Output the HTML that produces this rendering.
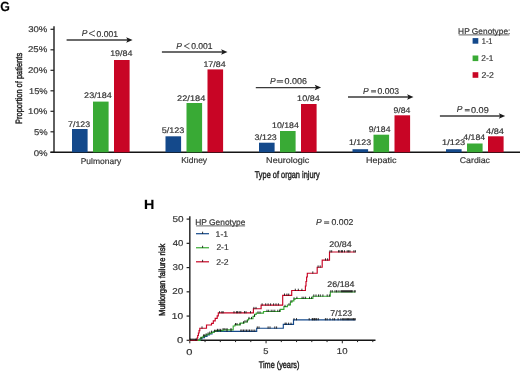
<!DOCTYPE html>
<html><head><meta charset="utf-8"><style>
html,body{margin:0;padding:0;background:#fff;width:520px;height:372px;overflow:hidden}
svg{display:block;font-family:"Liberation Sans", sans-serif;filter:blur(0.35px)}
text{stroke:#333;stroke-width:0.18px} text.t{stroke:#222;stroke-width:0.45px}
</style></head><body>
<svg width="520" height="372" viewBox="0 0 520 372">
<text transform="translate(0.374,11.064) skewX(0.1)" font-size="13.40" textLength="9.62" lengthAdjust="spacingAndGlyphs" font-weight="bold" fill="#000">G</text>
<text transform="translate(28.147,31.841) skewX(0.1)" font-size="8.30" textLength="19.13" lengthAdjust="spacingAndGlyphs" fill="#333">30%</text>
<text transform="translate(28.005,52.395) skewX(0.1)" font-size="8.30" textLength="19.31" lengthAdjust="spacingAndGlyphs" fill="#333">25%</text>
<text transform="translate(28.005,73.101) skewX(0.1)" font-size="8.30" textLength="19.31" lengthAdjust="spacingAndGlyphs" fill="#333">20%</text>
<text transform="translate(28.990,94.031) skewX(0.1)" font-size="8.30" textLength="18.64" lengthAdjust="spacingAndGlyphs" fill="#333">15%</text>
<text transform="translate(28.044,114.158) skewX(0.1)" font-size="8.30" textLength="19.31" lengthAdjust="spacingAndGlyphs" fill="#333">10%</text>
<text transform="translate(33.980,135.122) skewX(0.1)" font-size="8.30" textLength="13.69" lengthAdjust="spacingAndGlyphs" fill="#333">5%</text>
<text transform="translate(33.667,155.512) skewX(0.1)" font-size="8.30" textLength="13.93" lengthAdjust="spacingAndGlyphs" fill="#333">0%</text>
<text transform="translate(80.711,163.543) skewX(0.1)" font-size="8.30" textLength="40.55" lengthAdjust="spacingAndGlyphs" fill="#333">Pulmonary</text>
<text transform="translate(181.172,162.986) skewX(0.1)" font-size="8.30" textLength="25.94" lengthAdjust="spacingAndGlyphs" fill="#333">Kidney</text>
<text transform="translate(266.093,162.901) skewX(0.1)" font-size="8.30" textLength="43.25" lengthAdjust="spacingAndGlyphs" fill="#333">Neurologic</text>
<text transform="translate(365.895,162.758) skewX(0.1)" font-size="8.30" textLength="30.58" lengthAdjust="spacingAndGlyphs" fill="#333">Hepatic</text>
<text transform="translate(459.743,163.415) skewX(0.1)" font-size="8.30" textLength="30.23" lengthAdjust="spacingAndGlyphs" fill="#333">Cardiac</text>
<text class="t" transform="translate(254.751,177.828) skewX(0.1)" font-size="9.80" textLength="64.97" lengthAdjust="spacingAndGlyphs" fill="#333">Type of organ injury</text>
<text class="t" transform="translate(21.805,123.986) rotate(-90) skewX(0.1)" font-size="9.20" textLength="71.14" lengthAdjust="spacingAndGlyphs" fill="#333">Proportion of patients</text>
<text transform="translate(68.110,126.543) skewX(0.1)" font-size="8.10" textLength="22.07" lengthAdjust="spacingAndGlyphs" fill="#333">7/123</text>
<text transform="translate(84.123,97.570) skewX(0.1)" font-size="8.10" textLength="27.63" lengthAdjust="spacingAndGlyphs" fill="#333">23/184</text>
<text transform="translate(110.158,56.262) skewX(0.1)" font-size="8.10" textLength="22.30" lengthAdjust="spacingAndGlyphs" fill="#333">19/84</text>
<text transform="translate(161.632,132.970) skewX(0.1)" font-size="8.10" textLength="22.75" lengthAdjust="spacingAndGlyphs" fill="#333">5/123</text>
<text transform="translate(177.117,101.154) skewX(0.1)" font-size="8.10" textLength="28.17" lengthAdjust="spacingAndGlyphs" fill="#333">22/184</text>
<text transform="translate(203.399,66.962) skewX(0.1)" font-size="8.10" textLength="22.17" lengthAdjust="spacingAndGlyphs" fill="#333">17/84</text>
<text transform="translate(254.509,139.577) skewX(0.1)" font-size="8.10" textLength="22.31" lengthAdjust="spacingAndGlyphs" fill="#333">3/123</text>
<text transform="translate(272.000,128.034) skewX(0.1)" font-size="8.10" textLength="26.89" lengthAdjust="spacingAndGlyphs" fill="#333">10/184</text>
<text transform="translate(297.109,100.929) skewX(0.1)" font-size="8.10" textLength="22.59" lengthAdjust="spacingAndGlyphs" fill="#333">10/84</text>
<text transform="translate(348.883,145.491) skewX(0.1)" font-size="8.10" textLength="22.21" lengthAdjust="spacingAndGlyphs" fill="#333">1/123</text>
<text transform="translate(368.764,131.613) skewX(0.1)" font-size="8.10" textLength="21.72" lengthAdjust="spacingAndGlyphs" fill="#333">9/184</text>
<text transform="translate(393.439,113.020) skewX(0.1)" font-size="8.10" textLength="16.92" lengthAdjust="spacingAndGlyphs" fill="#333">9/84</text>
<text transform="translate(442.114,145.146) skewX(0.1)" font-size="8.10" textLength="23.14" lengthAdjust="spacingAndGlyphs" fill="#333">1/123</text>
<text transform="translate(463.335,139.919) skewX(0.1)" font-size="8.10" textLength="21.76" lengthAdjust="spacingAndGlyphs" fill="#333">4/184</text>
<text transform="translate(486.042,133.555) skewX(0.1)" font-size="8.10" textLength="17.96" lengthAdjust="spacingAndGlyphs" fill="#333">4/84</text>
<text transform="translate(458.121,33.740) skewX(0.1)" font-size="8.20" textLength="52.24" lengthAdjust="spacingAndGlyphs" fill="#333">HP Genotype:</text>
<text transform="translate(481.773,44.482) skewX(0.1)" font-size="8.40" textLength="10.72" lengthAdjust="spacingAndGlyphs" fill="#333">1-1</text>
<text transform="translate(481.356,61.360) skewX(0.1)" font-size="8.40" textLength="12.02" lengthAdjust="spacingAndGlyphs" fill="#333">2-1</text>
<text transform="translate(481.406,77.648) skewX(0.1)" font-size="8.40" textLength="12.55" lengthAdjust="spacingAndGlyphs" fill="#333">2-2</text>
<text transform="translate(143.908,208.946) skewX(0.1)" font-size="13.20" textLength="10.36" lengthAdjust="spacingAndGlyphs" font-weight="bold" fill="#000">H</text>
<text transform="translate(172.382,221.801) skewX(0.1)" font-size="8.50" textLength="11.14" lengthAdjust="spacingAndGlyphs" fill="#333">50</text>
<text transform="translate(172.667,245.865) skewX(0.1)" font-size="8.50" textLength="10.59" lengthAdjust="spacingAndGlyphs" fill="#333">40</text>
<text transform="translate(172.413,270.226) skewX(0.1)" font-size="8.50" textLength="11.02" lengthAdjust="spacingAndGlyphs" fill="#333">30</text>
<text transform="translate(172.360,294.376) skewX(0.1)" font-size="8.50" textLength="11.01" lengthAdjust="spacingAndGlyphs" fill="#333">20</text>
<text transform="translate(171.744,318.568) skewX(0.1)" font-size="8.50" textLength="11.29" lengthAdjust="spacingAndGlyphs" fill="#333">10</text>
<text transform="translate(177.088,343.321) skewX(0.1)" font-size="8.50" textLength="6.24" lengthAdjust="spacingAndGlyphs" fill="#333">0</text>
<text transform="translate(186.329,355.123) skewX(0.1)" font-size="8.50" textLength="6.18" lengthAdjust="spacingAndGlyphs" fill="#333">0</text>
<text transform="translate(263.218,354.414) skewX(0.1)" font-size="8.50" textLength="5.23" lengthAdjust="spacingAndGlyphs" fill="#333">5</text>
<text transform="translate(336.806,353.900) skewX(0.1)" font-size="8.50" textLength="10.69" lengthAdjust="spacingAndGlyphs" fill="#333">10</text>
<text class="t" transform="translate(258.727,368.232) skewX(0.1)" font-size="9.60" textLength="40.73" lengthAdjust="spacingAndGlyphs" fill="#333">Time (years)</text>
<text class="t" transform="translate(165.344,315.934) rotate(-90) skewX(0.1)" font-size="8.70" textLength="72.24" lengthAdjust="spacingAndGlyphs" fill="#333">Multiorgan failure risk</text>
<text transform="translate(195.260,224.783) skewX(0.1)" font-size="8.20" textLength="50.19" lengthAdjust="spacingAndGlyphs" fill="#333">HP Genotype</text>
<text transform="translate(215.584,236.705) skewX(0.1)" font-size="8.40" textLength="12.55" lengthAdjust="spacingAndGlyphs" fill="#333">1-1</text>
<text transform="translate(216.409,250.480) skewX(0.1)" font-size="8.40" textLength="12.25" lengthAdjust="spacingAndGlyphs" fill="#333">2-1</text>
<text transform="translate(216.173,265.080) skewX(0.1)" font-size="8.40" textLength="12.49" lengthAdjust="spacingAndGlyphs" fill="#333">2-2</text>
<text transform="translate(329.355,247.267) skewX(0.1)" font-size="8.20" textLength="22.41" lengthAdjust="spacingAndGlyphs" fill="#333">20/84</text>
<text transform="translate(327.306,286.901) skewX(0.1)" font-size="8.20" textLength="27.22" lengthAdjust="spacingAndGlyphs" fill="#333">26/184</text>
<text transform="translate(330.318,315.609) skewX(0.1)" font-size="8.20" textLength="21.88" lengthAdjust="spacingAndGlyphs" fill="#333">7/123</text>
<text transform="translate(81.693,36.283) skewX(0.1)" font-size="8.50" fill="#333"><tspan font-style="italic">P</tspan></text>
<text transform="translate(96.568,36.531) skewX(0.1)" font-size="8.50" textLength="21.41" lengthAdjust="spacingAndGlyphs" fill="#333">0.001</text>
<text transform="translate(176.197,49.414) skewX(0.1)" font-size="8.50" fill="#333"><tspan font-style="italic">P</tspan></text>
<text transform="translate(191.187,49.144) skewX(0.1)" font-size="8.50" textLength="21.45" lengthAdjust="spacingAndGlyphs" fill="#333">0.001</text>
<text transform="translate(269.922,84.114) skewX(0.1)" font-size="8.50" fill="#333"><tspan font-style="italic">P</tspan></text>
<text transform="translate(284.478,83.946) skewX(0.1)" font-size="8.50" textLength="22.40" lengthAdjust="spacingAndGlyphs" fill="#333">0.006</text>
<text transform="translate(362.922,93.714) skewX(0.1)" font-size="8.50" fill="#333"><tspan font-style="italic">P</tspan></text>
<text transform="translate(377.569,94.031) skewX(0.1)" font-size="8.50" textLength="21.57" lengthAdjust="spacingAndGlyphs" fill="#333">0.003</text>
<text transform="translate(456.706,112.088) skewX(0.1)" font-size="8.50" fill="#333"><tspan font-style="italic">P</tspan></text>
<text transform="translate(470.973,113.131) skewX(0.1)" font-size="8.50" textLength="17.75" lengthAdjust="spacingAndGlyphs" fill="#333">0.09</text>
<text transform="translate(315.922,225.114) skewX(0.1)" font-size="8.50" fill="#333"><tspan font-style="italic">P</tspan></text>
<text transform="translate(331.514,224.747) skewX(0.1)" font-size="8.50" textLength="21.82" lengthAdjust="spacingAndGlyphs" fill="#333">0.002</text>
<path d="M95.0,30.700000000000003 L89.0,33.45 L95.0,36.199999999999996" fill="none" stroke="#333" stroke-width="0.85"/>
<path d="M189.5,43.300000000000004 L184.3,46.05 L189.5,48.8" fill="none" stroke="#333" stroke-width="0.85"/>
<path d="M276.8,80.64999999999999 H283.1 M276.8,82.15 H283.1" fill="none" stroke="#4a4a4a" stroke-width="0.95"/>
<path d="M371.09999999999997,90.75 H376.0 M371.09999999999997,91.95 H376.0" fill="none" stroke="#4a4a4a" stroke-width="0.95"/>
<path d="M464.8,109.55 H469.7 M464.8,110.85000000000001 H469.7" fill="none" stroke="#4a4a4a" stroke-width="0.95"/>
<path d="M324.09999999999997,221.85000000000002 H329.2 M324.09999999999997,223.25 H329.2" fill="none" stroke="#4a4a4a" stroke-width="0.95"/>
<line x1="54" y1="26.3" x2="54" y2="152.3" stroke="#383838" stroke-width="1.6"/>
<line x1="50.5" y1="152.3" x2="54" y2="152.3" stroke="#222" stroke-width="1.2"/>
<line x1="50.5" y1="131.8" x2="54" y2="131.8" stroke="#222" stroke-width="1.2"/>
<line x1="50.5" y1="111.30000000000001" x2="54" y2="111.30000000000001" stroke="#222" stroke-width="1.2"/>
<line x1="50.5" y1="90.80000000000001" x2="54" y2="90.80000000000001" stroke="#222" stroke-width="1.2"/>
<line x1="50.5" y1="70.30000000000001" x2="54" y2="70.30000000000001" stroke="#222" stroke-width="1.2"/>
<line x1="50.5" y1="49.800000000000026" x2="54" y2="49.800000000000026" stroke="#222" stroke-width="1.2"/>
<line x1="50.5" y1="29.300000000000026" x2="54" y2="29.300000000000026" stroke="#222" stroke-width="1.2"/>
<line x1="50.4" y1="152.3" x2="520" y2="152.3" stroke="#151515" stroke-width="1.4"/>
<rect x="72.0" y="129.0" width="15.6" height="23.30000000000001" fill="#14498b"/>
<rect x="93.0" y="101.6" width="15.6" height="50.70000000000002" fill="#39aa35"/>
<rect x="114.0" y="60.0" width="15.6" height="92.30000000000001" fill="#c80525"/>
<rect x="165.5" y="136.3" width="15.6" height="16.0" fill="#14498b"/>
<rect x="186.5" y="103.0" width="15.6" height="49.30000000000001" fill="#39aa35"/>
<rect x="207.5" y="69.4" width="15.6" height="82.9" fill="#c80525"/>
<rect x="259.0" y="142.7" width="15.6" height="9.600000000000023" fill="#14498b"/>
<rect x="280.0" y="131.0" width="15.6" height="21.30000000000001" fill="#39aa35"/>
<rect x="301.0" y="104.0" width="15.6" height="48.30000000000001" fill="#c80525"/>
<rect x="352.5" y="149.2" width="15.6" height="3.1000000000000227" fill="#14498b"/>
<rect x="373.5" y="134.7" width="15.6" height="17.600000000000023" fill="#39aa35"/>
<rect x="394.5" y="115.3" width="15.6" height="37.000000000000014" fill="#c80525"/>
<rect x="446.0" y="149.2" width="15.6" height="3.1000000000000227" fill="#14498b"/>
<rect x="467.0" y="143.5" width="15.6" height="8.800000000000011" fill="#39aa35"/>
<rect x="488.0" y="136.3" width="15.6" height="16.0" fill="#c80525"/>
<line x1="66.6" y1="40.0" x2="128.6" y2="40.0" stroke="#3a3a3a" stroke-width="1.45"/>
<path d="M132.6,40.0 L126.19999999999999,37.25 L127.6,40.0 L126.19999999999999,42.75 Z" fill="#1a1a1a"/>
<line x1="161.9" y1="52.0" x2="223.5" y2="52.0" stroke="#3a3a3a" stroke-width="1.45"/>
<path d="M227.5,52.0 L221.1,49.25 L222.5,52.0 L221.1,54.75 Z" fill="#1a1a1a"/>
<line x1="255.8" y1="87.6" x2="317.1" y2="87.6" stroke="#3a3a3a" stroke-width="1.45"/>
<path d="M321.1,87.6 L314.70000000000005,84.85 L316.1,87.6 L314.70000000000005,90.35 Z" fill="#1a1a1a"/>
<line x1="348.0" y1="97.0" x2="409.5" y2="97.0" stroke="#3a3a3a" stroke-width="1.45"/>
<path d="M413.5,97.0 L407.1,94.25 L408.5,97.0 L407.1,99.75 Z" fill="#1a1a1a"/>
<line x1="439.9" y1="115.9" x2="501.2" y2="115.9" stroke="#3a3a3a" stroke-width="1.45"/>
<path d="M505.2,115.9 L498.8,113.15 L500.2,115.9 L498.8,118.65 Z" fill="#1a1a1a"/>
<line x1="458.7" y1="34.9" x2="509.4" y2="34.9" stroke="#333" stroke-width="0.75"/>
<rect x="472.6" y="38.1" width="5.7" height="5.6" fill="#14498b"/>
<rect x="472.6" y="55.5" width="5.7" height="5.6" fill="#39aa35"/>
<rect x="472.6" y="72.2" width="5.7" height="5.6" fill="#c80525"/>
<line x1="189.8" y1="216.2" x2="189.8" y2="340.3" stroke="#383838" stroke-width="1.6"/>
<line x1="186.6" y1="340.3" x2="189.8" y2="340.3" stroke="#222" stroke-width="1.2"/>
<line x1="186.6" y1="316.06" x2="189.8" y2="316.06" stroke="#222" stroke-width="1.2"/>
<line x1="186.6" y1="291.82" x2="189.8" y2="291.82" stroke="#222" stroke-width="1.2"/>
<line x1="186.6" y1="267.58000000000004" x2="189.8" y2="267.58000000000004" stroke="#222" stroke-width="1.2"/>
<line x1="186.6" y1="243.34000000000003" x2="189.8" y2="243.34000000000003" stroke="#222" stroke-width="1.2"/>
<line x1="186.6" y1="219.10000000000002" x2="189.8" y2="219.10000000000002" stroke="#222" stroke-width="1.2"/>
<line x1="189.0" y1="340.3" x2="375.5" y2="340.3" stroke="#151515" stroke-width="1.4"/>
<line x1="189.8" y1="340.3" x2="189.8" y2="343.3" stroke="#222" stroke-width="1.0"/>
<line x1="205.05" y1="340.3" x2="205.05" y2="342.1" stroke="#222" stroke-width="1.0"/>
<line x1="220.3" y1="340.3" x2="220.3" y2="342.1" stroke="#222" stroke-width="1.0"/>
<line x1="235.55" y1="340.3" x2="235.55" y2="342.1" stroke="#222" stroke-width="1.0"/>
<line x1="250.8" y1="340.3" x2="250.8" y2="342.1" stroke="#222" stroke-width="1.0"/>
<line x1="266.05" y1="340.3" x2="266.05" y2="343.3" stroke="#222" stroke-width="1.0"/>
<line x1="281.3" y1="340.3" x2="281.3" y2="342.1" stroke="#222" stroke-width="1.0"/>
<line x1="296.55" y1="340.3" x2="296.55" y2="342.1" stroke="#222" stroke-width="1.0"/>
<line x1="311.8" y1="340.3" x2="311.8" y2="342.1" stroke="#222" stroke-width="1.0"/>
<line x1="327.05" y1="340.3" x2="327.05" y2="342.1" stroke="#222" stroke-width="1.0"/>
<line x1="342.3" y1="340.3" x2="342.3" y2="343.3" stroke="#222" stroke-width="1.0"/>
<line x1="357.55" y1="340.3" x2="357.55" y2="342.1" stroke="#222" stroke-width="1.0"/>
<line x1="372.8" y1="340.3" x2="372.8" y2="342.1" stroke="#222" stroke-width="1.0"/>
<line x1="196.1" y1="225.9" x2="245.1" y2="225.9" stroke="#333" stroke-width="0.75"/>
<line x1="196.0" y1="233.7" x2="209.0" y2="233.7" stroke="#14498b" stroke-width="1.2"/>
<line x1="202.6" y1="233.7" x2="202.6" y2="231.7" stroke="#000" stroke-width="0.8"/>
<line x1="196.0" y1="247.75" x2="209.0" y2="247.75" stroke="#39aa35" stroke-width="1.2"/>
<line x1="202.6" y1="247.75" x2="202.6" y2="245.75" stroke="#000" stroke-width="0.8"/>
<line x1="196.0" y1="261.8" x2="209.0" y2="261.8" stroke="#c80525" stroke-width="1.2"/>
<line x1="202.6" y1="261.8" x2="202.6" y2="259.8" stroke="#000" stroke-width="0.8"/>
<path d="M189.5,340.3 H200 V339 H202 V337.6 H204.5 V336.3 H207 V335 H209.5 V333.8 H212 V332.4 H214 V331.3 H256.7 V328.2 H283.3 V324.4 H293.5 V319.9 H355.4" fill="none" stroke="#14498b" stroke-width="1.15"/>
<path d="M189.5,340.3 H200 V338.8 H201 V337.3 H203 V336.2 H205 V335.2 H207 V334.2 H209.5 V333.3 H211.5 V332.4 H214 V331.5 H216 V330.6 H223 V329.8 H233.2 V326 H234.9 V324.8 H240.1 V323.1 H244 V322 H247.4 V319.9 H248.6 V318.7 H253 V316.3 H254.6 V314.3 H256.2 V313.1 H263.5 V311.5 H280.2 V309.3 H283.9 V306.6 H287.4 V305 H290.4 V302 H292.2 V300.8 H293.9 V299.1 H295.2 V298.5 H312.9 V296.2 H330.3 V292 H355.4" fill="none" stroke="#39aa35" stroke-width="1.15"/>
<path d="M189.5,340.3 H197 V338 H197.7 V335.5 H198.4 V333 H199.1 V330.6 H199.8 V328.2 H206.5 V325 H211.5 V323.4 H213.3 V320.8 H215.2 V318.3 H217.2 V315.8 H218.3 V312.9 H253.4 V308.7 H261.1 V305.1 H282.7 V295.3 H291.7 V290.5 H305.4 V286 H306 V281.5 H306.6 V277 H307.3 V273.2 H317.2 V267.2 H322.2 V260.1 H329.5 V252 H355.6" fill="none" stroke="#c80525" stroke-width="1.15"/>
<path d="M217.8,331.7 V329.5 M220.6,331.7 V329.5 M227,331.7 V329.5 M231,331.7 V329.5 M240.8,331.7 V329.5 M242,331.7 V329.5 M243.5,331.7 V329.5 M245,331.7 V329.5 M246.5,331.7 V329.5 M248,331.7 V329.5 M249.5,331.7 V329.5 M251.2,331.7 V329.5 M253,331.7 V329.5 M254.8,331.7 V329.5 M257.3,328.59999999999997 V326.4 M259,328.59999999999997 V326.4 M268.1,328.59999999999997 V326.4 M270,328.59999999999997 V326.4 M274.8,328.59999999999997 V326.4 M276.6,328.59999999999997 V326.4 M285.1,324.79999999999995 V322.6 M286.2,324.79999999999995 V322.6 M288.6,324.79999999999995 V322.6 M291,324.79999999999995 V322.6 M294,320.29999999999995 V318.1 M296.5,320.29999999999995 V318.1 M309.2,320.29999999999995 V318.1 M312.2,320.29999999999995 V318.1 M312.7,320.29999999999995 V318.1 M314,320.29999999999995 V318.1 M314.4,320.29999999999995 V318.1 M315.8,320.29999999999995 V318.1 M316.7,320.29999999999995 V318.1 M318.3,320.29999999999995 V318.1 M325.4,320.29999999999995 V318.1 M327.1,320.29999999999995 V318.1 M330,320.29999999999995 V318.1 M332.9,320.29999999999995 V318.1 M334.6,320.29999999999995 V318.1 M338.1,320.29999999999995 V318.1 M340.9,320.29999999999995 V318.1 M342.7,320.29999999999995 V318.1 M343.8,320.29999999999995 V318.1 M345,320.29999999999995 V318.1 M346.2,320.29999999999995 V318.1 M347.4,320.29999999999995 V318.1 M348.6,320.29999999999995 V318.1 M349.8,320.29999999999995 V318.1 M351,320.29999999999995 V318.1 M352.2,320.29999999999995 V318.1 M353.4,320.29999999999995 V318.1 M354.2,320.29999999999995 V318.1 M355.2,320.29999999999995 V318.1 M201,339.2 V337.0 M203.5,336.59999999999997 V334.4 M204.7,336.59999999999997 V334.4 M206.1,335.59999999999997 V333.4 M208.1,334.59999999999997 V332.4 M209.8,333.7 V331.5 M211.6,332.79999999999995 V330.6 M214.5,331.9 V329.7 M215.9,331.9 V329.7 M217.4,331.0 V328.8 M219.1,331.0 V328.8 M220.8,331.0 V328.8 M223.1,330.2 V328.0 M224.9,330.2 V328.0 M227,330.2 V328.0 M231,330.2 V328.0 M235.5,325.2 V323.0 M237,325.2 V323.0 M240,325.2 V323.0 M243.5,323.5 V321.3 M245,322.4 V320.2 M247,322.4 V320.2 M249,319.09999999999997 V316.9 M251.5,319.09999999999997 V316.9 M254.5,316.7 V314.5 M258,313.5 V311.3 M260,313.5 V311.3 M267,311.9 V309.7 M268.7,311.9 V309.7 M271.2,311.9 V309.7 M273,311.9 V309.7 M274.8,311.9 V309.7 M277.8,311.9 V309.7 M279.6,311.9 V309.7 M285,307.0 V304.8 M289,305.4 V303.2 M291,302.4 V300.2 M294,299.5 V297.3 M296.9,298.9 V296.7 M302.1,298.9 V296.7 M303.8,298.9 V296.7 M305.6,298.9 V296.7 M309.5,298.9 V296.7 M311.6,298.9 V296.7 M313.8,296.59999999999997 V294.4 M316,296.59999999999997 V294.4 M318.5,296.59999999999997 V294.4 M320.3,296.59999999999997 V294.4 M322.9,296.59999999999997 V294.4 M327.2,296.59999999999997 V294.4 M329.4,296.59999999999997 V294.4 M330.8,292.4 V290.2 M332.3,292.4 V290.2 M335,292.4 V290.2 M336.5,292.4 V290.2 M338.1,292.4 V290.2 M340,292.4 V290.2 M341.5,292.4 V290.2 M342.5,292.4 V290.2 M343.5,292.4 V290.2 M344.5,292.4 V290.2 M345.5,292.4 V290.2 M346.5,292.4 V290.2 M347.5,292.4 V290.2 M348.5,292.4 V290.2 M349.5,292.4 V290.2 M350.5,292.4 V290.2 M351.5,292.4 V290.2 M352.3,292.4 V290.2 M354.2,292.4 V290.2 M355.2,292.4 V290.2 M190.5,340.7 V338.5 M191.8,340.7 V338.5 M193,340.7 V338.5 M194.2,340.7 V338.5 M195.5,340.7 V338.5 M196.6,340.7 V338.5 M202,328.59999999999997 V326.4 M219.6,313.29999999999995 V311.1 M221.9,313.29999999999995 V311.1 M223.1,313.29999999999995 V311.1 M234,313.29999999999995 V311.1 M236.4,313.29999999999995 V311.1 M237.6,313.29999999999995 V311.1 M239.2,313.29999999999995 V311.1 M240.8,313.29999999999995 V311.1 M244.5,313.29999999999995 V311.1 M246,313.29999999999995 V311.1 M250.5,313.29999999999995 V311.1 M253.9,309.09999999999997 V306.9 M256,309.09999999999997 V306.9 M262.1,305.5 V303.3 M265.7,305.5 V303.3 M268.1,305.5 V303.3 M270.6,305.5 V303.3 M273.6,305.5 V303.3 M276,305.5 V303.3 M278.4,305.5 V303.3 M284.5,295.7 V293.5 M286.9,295.7 V293.5 M288.7,295.7 V293.5 M295.3,290.9 V288.7 M298.3,290.9 V288.7 M301.9,290.9 V288.7 M312.8,273.59999999999997 V271.4 M318.1,267.59999999999997 V265.4 M320.2,267.59999999999997 V265.4 M325.5,260.5 V258.3 M327.6,260.5 V258.3 M330,252.4 V250.2 M331.7,252.4 V250.2 M338.5,252.4 V250.2 M339.8,252.4 V250.2 M341.5,252.4 V250.2 M342.5,252.4 V250.2 M344.5,252.4 V250.2 M347.2,252.4 V250.2 M348.6,252.4 V250.2 M349.9,252.4 V250.2 M353.9,252.4 V250.2 M355.4,252.4 V250.2" fill="none" stroke="#111" stroke-width="0.85"/>
</svg>
</body></html>
